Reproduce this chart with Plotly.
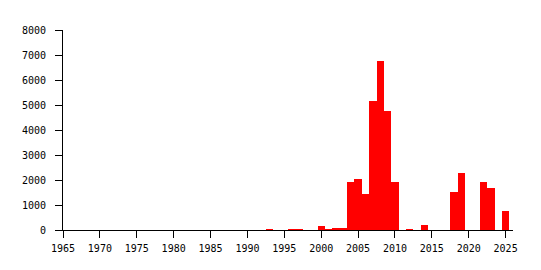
import plotly.graph_objects as go

years = [1993, 1996, 1997, 2000, 2001, 2002, 2003, 2004, 2005, 2006, 2007, 2008,
         2009, 2010, 2012, 2014, 2018, 2019, 2022, 2023, 2025]
counts = [40, 40, 40, 170, 40, 90, 60, 1930, 2050, 1450, 5170, 6770,
          4770, 1930, 40, 210, 1530, 2290, 1930, 1690, 770]

x_ticks = list(range(1965, 2030, 5))
y_ticks = list(range(0, 9000, 1000))

fig = go.Figure()
fig.add_trace(go.Bar(x=years, y=counts, width=1.0,
                     marker=dict(color="#ff0000", line=dict(width=0))))

font = dict(family="DejaVu Sans Mono", size=10, color="black")
fig.update_layout(
    width=541, height=270,
    margin=dict(l=63, r=28, t=30, b=40),
    paper_bgcolor="white", plot_bgcolor="white",
    showlegend=False, bargap=0,
    font=font,
    xaxis=dict(range=[1965, 2026], tickvals=x_ticks, ticks="outside", ticklen=7,
               tickcolor="black", tickwidth=1, showline=True, linecolor="black",
               linewidth=1, showgrid=False, zeroline=False, ticklabelstandoff=2,
               tickfont=font, layer="below traces"),
    yaxis=dict(range=[0, 8000], tickvals=y_ticks, ticks="outside", ticklen=7,
               tickcolor="black", tickwidth=1, showline=True, linecolor="black",
               linewidth=1, showgrid=False, zeroline=False, ticklabelstandoff=7,
               tickfont=font, layer="below traces"),
)
fig.write_html("out.html")
